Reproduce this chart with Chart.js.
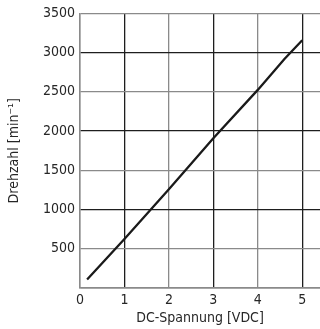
<!DOCTYPE html>
<html>
<head>
<meta charset="utf-8">
<script src="https://cdn.jsdelivr.net/npm/chart.js@4"></script>
<style>
html,body{margin:0;padding:0;background:#fff;}
canvas{display:block;}
</style>
</head>
<body>
<canvas id="c" width="320" height="329"></canvas>
<script>
const voltage = [0.16, 1, 2, 3, 4, 4.6, 5];
const speed = [108, 625, 1260, 1910, 2525, 2920, 3158];
const xTicks = [0, 1, 2, 3, 4, 5];
const yTicks = [0, 500, 1000, 1500, 2000, 2500, 3000, 3500];
const xTitle = 'DC-Spannung [VDC]';
const yTitle = 'Drehzahl [min\u207B\u00B9]';

const FONT = "'DejaVu Sans Condensed', 'Liberation Sans', sans-serif";
const dark = '#1e1e1e';
const gray = '#8a8a8a';
const txt = '#262626';

new Chart(document.getElementById('c'), {
  type: 'line',
  data: {
    datasets: [{
      data: voltage.map((v, i) => ({x: v, y: speed[i]})),
      borderColor: '#1a1a1a',
      borderWidth: 2.3,
      pointRadius: 0,
      tension: 0,
      fill: false
    }]
  },
  options: {
    responsive: false,
    animation: false,
    layout: {padding: 0},
    plugins: {legend: {display: false}, tooltip: {enabled: false}},
    scales: {
      x: {
        type: 'linear',
        min: 0,
        max: 5.4,
        afterBuildTicks: s => { s.ticks = xTicks.map(v => ({value: v})); },
        afterFit: s => { s.height = 41; },
        grid: {
          drawTicks: false,
          lineWidth: 1.3,
          color: c => (c.tick && c.tick.value % 2 === 0) ? gray : dark
        },
        border: {color: gray, width: 1.5},
        ticks: {
          padding: 4,
          color: txt,
          font: {family: FONT, size: 14},
          callback: v => v
        },
        title: {
          display: true,
          text: xTitle,
          color: txt,
          padding: {top: 0, bottom: 2},
          font: {family: FONT, size: 14}
        }
      },
      y: {
        type: 'linear',
        min: 0,
        max: 3500,
        afterBuildTicks: s => { s.ticks = yTicks.map(v => ({value: v})); },
        afterFit: s => { s.width = 80; },
        grid: {
          drawTicks: false,
          lineWidth: 1.3,
          color: c => (c.tick && c.tick.value % 1000 === 500) ? gray : dark
        },
        border: {color: gray, width: 1.5},
        ticks: {
          padding: 5,
          color: txt,
          font: {family: FONT, size: 14},
          callback: v => v === 0 ? '' : String(v)
        },
        title: {
          display: true,
          text: yTitle,
          color: txt,
          padding: {top: 6, bottom: 4},
          font: {family: FONT, size: 14}
        }
      }
    }
  }
});
</script>
</body>
</html>
